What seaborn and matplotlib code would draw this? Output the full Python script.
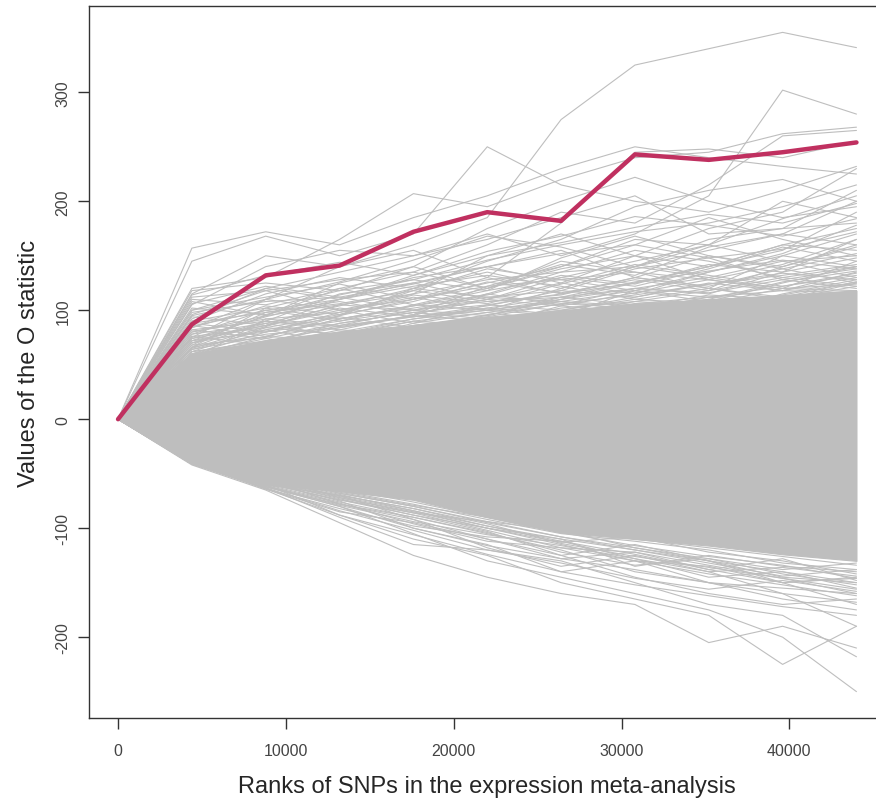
import seaborn as sns
import matplotlib.pyplot as plt
import pandas as pd

# ranks where the O statistic was computed
ranks = [0, 4400, 8800, 13200, 17600, 22000, 26400, 30800, 35200, 39600, 44000]

# observed O statistic (highlighted curve)
observed = [0, 87, 132, 141, 172, 190, 182, 243, 238, 245, 254]

# dense core of the permuted curves (upper / lower edge of the solid gray mass)
core_upper = [0, 60, 72, 80, 86, 94, 100, 106, 110, 114, 118]
core_lower = [0, -41, -60, -66, -74, -90, -104, -110, -116, -124, -130]

# permuted curves that stick out above the core
upper_walks = [
    [0, 157, 172, 160, 185, 205, 230, 250, 240, 232, 225],
    [0, 145, 168, 150, 170, 250, 215, 200, 190, 210, 232],
    [0, 120, 130, 165, 207, 195, 220, 240, 245, 262, 268],
    [0, 115, 150, 140, 160, 185, 275, 325, 340, 355, 341],
    [0, 100, 120, 135, 150, 170, 150, 170, 205, 302, 280],
    [0, 95, 110, 140, 155, 130, 180, 245, 248, 240, 255],
    [0, 118, 125, 118, 140, 175, 200, 222, 200, 185, 195],
    [0, 110, 105, 120, 135, 160, 190, 180, 215, 260, 265],
    [0, 90, 115, 130, 120, 145, 165, 195, 210, 220, 200],
    [0, 105, 140, 155, 150, 165, 185, 205, 170, 175, 180],
    [0, 85, 100, 110, 130, 140, 125, 150, 175, 190, 230],
    [0, 80, 95, 125, 140, 120, 140, 165, 160, 200, 185],
    [0, 75, 110, 100, 115, 150, 170, 150, 140, 160, 175],
    [0, 112, 118, 100, 110, 125, 140, 160, 185, 165, 150],
    [0, 70, 90, 115, 125, 140, 155, 130, 150, 140, 160],
    [0, 88, 80, 95, 120, 135, 120, 140, 165, 175, 210],
    [0, 65, 85, 105, 100, 115, 135, 155, 145, 130, 140],
    [0, 78, 100, 90, 105, 120, 145, 135, 120, 150, 170],
    [0, 92, 120, 110, 125, 110, 130, 145, 160, 145, 130],
    [0, 68, 75, 95, 110, 130, 115, 125, 140, 160, 155],
    [0, 72, 95, 120, 105, 100, 120, 140, 130, 120, 145],
    [0, 60, 80, 90, 100, 110, 125, 115, 135, 150, 140],
    [0, 82, 90, 85, 95, 115, 105, 120, 115, 135, 165],
    [0, 62, 70, 88, 98, 105, 115, 130, 120, 110, 125],
    [0, 98, 108, 112, 100, 95, 110, 125, 140, 155, 190],
    [0, 58, 72, 80, 92, 100, 110, 120, 130, 145, 150],
    [0, 74, 86, 100, 88, 105, 100, 112, 125, 118, 135],
    [0, 66, 78, 84, 95, 90, 102, 108, 118, 130, 122],
    [0, 55, 92, 98, 112, 100, 95, 118, 108, 125, 140],
    [0, 86, 76, 92, 102, 112, 108, 100, 112, 108, 118],
    [0, 64, 82, 70, 86, 95, 112, 105, 98, 115, 128],
    [0, 108, 95, 105, 115, 128, 135, 140, 155, 170, 160],
    [0, 52, 65, 78, 90, 98, 90, 106, 100, 112, 118],
    [0, 76, 68, 82, 78, 92, 98, 95, 108, 102, 112],
    [0, 60, 74, 66, 84, 80, 95, 102, 96, 105, 115],
    [0, 70, 88, 76, 90, 86, 104, 98, 110, 100, 108],
    [0, 96, 118, 128, 135, 120, 138, 150, 128, 142, 165],
    [0, 84, 104, 96, 118, 138, 128, 118, 135, 152, 178],
    [0, 102, 96, 114, 128, 118, 148, 168, 150, 138, 152],
    [0, 68, 98, 108, 96, 122, 142, 132, 158, 170, 200],
    [0, 78, 88, 104, 120, 112, 118, 138, 148, 128, 138],
    [0, 62, 84, 96, 108, 126, 116, 128, 118, 140, 158],
    [0, 90, 102, 92, 104, 118, 130, 122, 138, 158, 145],
    [0, 72, 80, 98, 114, 106, 124, 142, 132, 122, 132],
    [0, 58, 76, 92, 104, 114, 132, 124, 142, 135, 148],
    [0, 80, 92, 86, 100, 108, 114, 130, 122, 138, 125],
    [0, 66, 90, 82, 96, 110, 104, 116, 128, 118, 130],
    [0, 94, 86, 102, 94, 104, 118, 112, 124, 132, 142],
    [0, 56, 70, 86, 94, 102, 112, 120, 116, 128, 120],
    [0, 74, 94, 110, 122, 132, 122, 110, 120, 112, 126],
    [0, 64, 76, 72, 88, 98, 108, 118, 112, 122, 134],
    [0, 100, 112, 124, 110, 122, 128, 135, 128, 120, 118],
    [0, 60, 68, 80, 86, 94, 106, 114, 124, 134, 128],
    [0, 82, 74, 88, 98, 92, 100, 110, 106, 120, 124],
    [0, 70, 82, 94, 84, 96, 106, 102, 114, 110, 122],
    [0, 54, 66, 74, 86, 92, 98, 106, 112, 118, 116],
    [0, 88, 98, 106, 118, 108, 112, 126, 136, 146, 138],
    [0, 76, 84, 78, 92, 102, 96, 108, 104, 114, 126],
    [0, 62, 72, 84, 94, 100, 108, 104, 110, 126, 136],
    [0, 106, 122, 112, 124, 140, 152, 160, 148, 156, 172],
    [0, 114, 132, 144, 132, 150, 162, 176, 188, 180, 198],
    [0, 66, 102, 118, 128, 146, 160, 172, 180, 195, 215],
    [0, 72, 86, 110, 132, 154, 168, 186, 178, 168, 184],
    [0, 84, 110, 126, 146, 168, 158, 140, 160, 184, 205],
]

# permuted curves that stick out below the core
lower_walks = [
    [0, -42, -65, -95, -125, -145, -160, -170, -205, -190, -210],
    [0, -40, -60, -88, -110, -125, -150, -165, -180, -225, -190],
    [0, -38, -62, -80, -105, -130, -145, -160, -175, -200, -250],
    [0, -41, -63, -90, -115, -120, -130, -150, -170, -180, -218],
    [0, -39, -58, -75, -100, -115, -140, -130, -150, -165, -175],
    [0, -40, -64, -85, -95, -110, -125, -145, -160, -170, -165],
    [0, -37, -55, -78, -90, -105, -120, -140, -150, -155, -160],
    [0, -41, -60, -70, -92, -118, -135, -125, -140, -160, -190],
    [0, -36, -52, -72, -85, -100, -115, -130, -135, -150, -170],
    [0, -38, -64, -82, -98, -108, -112, -128, -145, -140, -155],
    [0, -35, -50, -68, -80, -95, -108, -120, -130, -145, -150],
    [0, -40, -57, -73, -88, -103, -125, -115, -130, -150, -145],
    [0, -34, -56, -70, -82, -98, -110, -135, -125, -135, -140],
    [0, -39, -61, -77, -96, -112, -118, -122, -138, -128, -148],
    [0, -33, -48, -66, -78, -92, -105, -112, -120, -132, -138],
    [0, -37, -59, -74, -86, -94, -102, -118, -128, -138, -132],
    [0, -36, -54, -69, -84, -100, -113, -108, -122, -130, -142],
    [0, -32, -50, -64, -76, -90, -100, -110, -118, -126, -134],
    [0, -40, -62, -78, -92, -110, -128, -138, -150, -160, -168],
    [0, -38, -58, -72, -86, -102, -118, -130, -142, -152, -162],
    [0, -41, -63, -84, -102, -120, -132, -146, -156, -148, -158],
    [0, -36, -56, -70, -82, -96, -114, -126, -136, -146, -156],
    [0, -39, -60, -76, -90, -104, -122, -134, -128, -142, -152],
    [0, -37, -57, -71, -84, -98, -112, -124, -138, -150, -146],
    [0, -35, -53, -68, -80, -94, -108, -118, -130, -140, -150],
    [0, -40, -61, -79, -94, -106, -116, -128, -140, -136, -144],
    [0, -38, -59, -74, -88, -100, -110, -120, -132, -144, -138],
    [0, -34, -52, -67, -79, -90, -104, -116, -126, -134, -146],
    [0, -39, -62, -80, -100, -116, -128, -122, -134, -146, -160],
    [0, -41, -64, -88, -106, -124, -140, -152, -162, -172, -180],
]

# long-form table for seaborn
rows = []
for k, walk in enumerate(upper_walks + lower_walks):
    for r, v in zip(ranks, walk):
        rows.append({'rank': r, 'O': v, 'walk': k})
df_perm = pd.DataFrame(rows)
df_obs = pd.DataFrame({'rank': ranks, 'O': observed})

sns.set_style("white")
plt.rcParams['font.family'] = ['Liberation Sans', 'DejaVu Sans']

fig = plt.figure(figsize=(8.76, 8.03), dpi=100)
ax = fig.add_axes([88.5 / 876, 1 - 719 / 803, (886 - 88.5) / 876, 712 / 803])

grey = '#BEBEBE'
ax.fill_between(ranks, core_lower, core_upper, color=grey, lw=0.8)
sns.lineplot(data=df_perm, x='rank', y='O', units='walk', estimator=None,
             color=grey, lw=0.8, ax=ax)
sns.lineplot(data=df_obs, x='rank', y='O', color='#C03060', lw=3.2, ax=ax)

ax.set_xlim(-1760, 45760)
ax.set_ylim(-274.2, 379.2)
ax.set_xticks([0, 10000, 20000, 30000, 40000])
ax.set_xticklabels(['0', '10000', '20000', '30000', '40000'])
ax.set_yticks([-200, -100, 0, 100, 200, 300])
ax.set_yticklabels(['-200', '-100', '0', '100', '200', '300'],
                   rotation=90, va='center')

ax.tick_params(axis='both', length=8, width=1, color='#333333',
               labelsize=11.5, labelcolor='#444444', direction='out')
ax.tick_params(axis='x', pad=10)
ax.tick_params(axis='y', pad=5)
ax.tick_params(bottom=True, left=True)

for side in ['left', 'bottom', 'top', 'right']:
    ax.spines[side].set_color('#333333')
    ax.spines[side].set_linewidth(1)

ax.set_xlabel('Ranks of SNPs in the expression meta-analysis', fontsize=17,
              labelpad=12)
ax.set_ylabel('Values of the O statistic', fontsize=17, labelpad=11)

plt.savefig('out.png', dpi=100)
